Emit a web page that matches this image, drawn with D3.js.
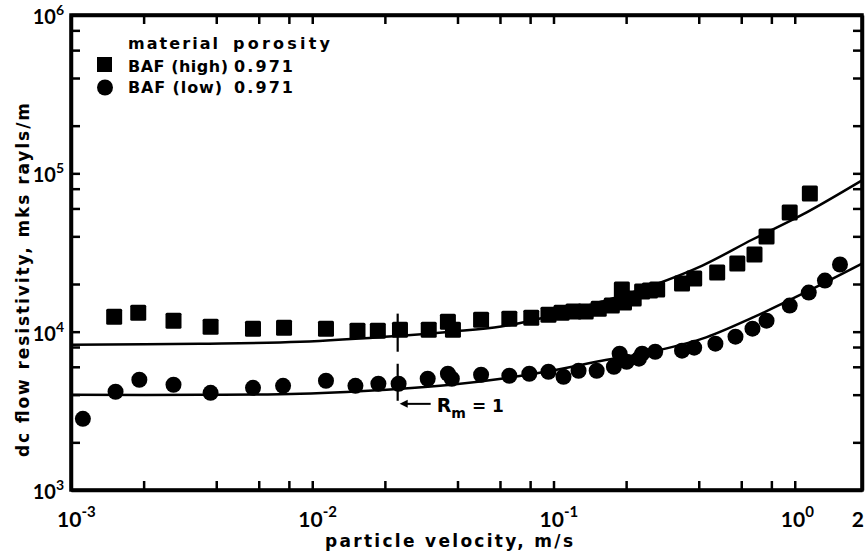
<!DOCTYPE html>
<html>
<head>
<meta charset="utf-8">
<script src="https://cdnjs.cloudflare.com/ajax/libs/d3/7.8.5/d3.min.js"></script>
<style>
  html, body { margin: 0; padding: 0; background: #fff; }
  svg { display: block; }
  text { font-family: 'Lato', 'DejaVu Sans', sans-serif; font-weight: 700; fill: #000; }
  text.wide { font-family: 'DejaVu Sans', sans-serif; font-weight: 700; }
</style>
</head>
<body>
<svg id="chart" width="865" height="555"></svg>
<script>
// ---------------- data ----------------
// BAF (high) — squares
const velHigh = [0.00151, 0.0019, 0.00266, 0.00379, 0.00568, 0.00764, 0.0114, 0.0154, 0.0187, 0.0231,
  0.0304, 0.0365, 0.0383, 0.0501, 0.0656, 0.0809, 0.0953, 0.108, 0.121, 0.136,
  0.154, 0.1745, 0.192, 0.196, 0.215, 0.233, 0.251, 0.269, 0.341, 0.383,
  0.477, 0.578, 0.681, 0.764, 0.953, 1.155];
const resHigh = [12440, 13190, 11740, 10760, 10440, 10600, 10440, 10150, 10150, 10300,
  10300, 11570, 10300, 11910, 12080, 12260, 12810, 13190, 13390, 13390,
  13980, 14610, 18450, 15260, 16180, 17920, 18180, 18450, 20130, 21650,
  23630, 26940, 30720, 39910, 56650, 74710];

// BAF (low) — circles
const velLow = [0.00112, 0.00153, 0.00192, 0.00266, 0.00379, 0.00568, 0.00757, 0.0114, 0.0151, 0.0188,
  0.0228, 0.0301, 0.0365, 0.0379, 0.0501, 0.0656, 0.0794, 0.0953, 0.110, 0.127,
  0.151, 0.178, 0.188, 0.201, 0.226, 0.233, 0.264, 0.341, 0.383, 0.469,
  0.568, 0.668, 0.764, 0.953, 1.143, 1.334, 1.54];
const resLow = [2814, 4172, 4968, 4619, 4111, 4420, 4550, 4896, 4550, 4688,
  4688, 5041, 5421, 5041, 5342, 5265, 5421, 5581, 5189, 5663,
  5663, 6005, 7258, 6457, 6748, 7258, 7470, 7582, 7923, 8396,
  9297, 10440, 11740, 14610, 17650, 21020, 26550];

// fitted curves
const fitVel  = [0.001, 0.00341, 0.00891, 0.0233, 0.0376, 0.0607, 0.0981, 0.1585, 0.256, 0.414, 0.668, 1.08, 1.9];
const fitHigh = [8270, 8400, 8640, 9430, 10000, 10770, 12620, 15500, 19550, 26170, 38200, 55000, 90300];
const fitLow  = [3990, 3990, 4050, 4360, 4620, 5040, 5660, 6550, 7470, 9030, 12260, 17400, 26940];

// axes
const xDomain = [0.001, 1.9];
const yDomain = [1000, 1000000];
const xMajor = [0.001, 0.01, 0.1, 1];
const xMajorExp = ["-3", "-2", "-1", "0"];
const xEndLabel = "2";
const yMajor = [1e3, 1e4, 1e5, 1e6];
const yMajorExp = ["3", "4", "5", "6"];
const minorMult = [2, 4, 6, 8];

// legend
const legendHeader = ["material", "porosity"];
const legendNames = ["BAF (high)", "BAF (low)"];
const legendPorosity = ["0.971", "0.971"];

// R_m = 1 annotation
const rmVel = 0.0226;
const rmSegments = [[13000, 7470], [6270, 3660]];
const rmArrowRes = 3500;

const xTitle = "particle velocity, m/s";
const yTitle = "dc flow resistivity,  mks rayls/m";

// ---------------- drawing ----------------
const svg = d3.select("#chart");
const L = 71, R = 862, T = 15, B = 490;
const x = d3.scaleLog().domain(xDomain).range([L, R]);
const y = d3.scaleLog().domain(yDomain).range([B, T]);

const xAll = [];
for (let d = -3; d <= 0; d++) {
  const base = Math.pow(10, d);
  xAll.push(base);
  minorMult.forEach(m => { if (base * m <= xDomain[1]) xAll.push(base * m); });
}
const yAll = [];
for (let d = 3; d <= 6; d++) {
  const base = Math.pow(10, d);
  yAll.push(base);
  if (d < 6) minorMult.forEach(m => yAll.push(base * m));
}

const TK = 9;
function styleAxis(g) {
  g.select(".domain").attr("stroke", "#000").attr("stroke-width", 3.5);
  g.selectAll(".tick line").attr("stroke", "#000").attr("stroke-width", 2.5);
  g.selectAll(".tick text").remove();
}
svg.append("g").attr("transform", `translate(0,${B})`)
  .call(d3.axisBottom(x).tickValues(xAll).tickSizeInner(-TK).tickSizeOuter(0).tickFormat(""))
  .call(styleAxis);
svg.append("g").attr("transform", `translate(0,${T})`)
  .call(d3.axisTop(x).tickValues(xAll).tickSizeInner(-TK).tickSizeOuter(0).tickFormat(""))
  .call(styleAxis);
svg.append("g").attr("transform", `translate(${L},0)`)
  .call(d3.axisLeft(y).tickValues(yAll).tickSizeInner(-TK).tickSizeOuter(0).tickFormat(""))
  .call(styleAxis);
svg.append("g").attr("transform", `translate(${R},0)`)
  .call(d3.axisRight(y).tickValues(yAll).tickSizeInner(-TK).tickSizeOuter(0).tickFormat(""))
  .call(styleAxis);
svg.append("rect").attr("x", L).attr("y", T).attr("width", R - L).attr("height", B - T)
  .attr("fill", "none").attr("stroke", "#000").attr("stroke-width", 3.5);

// x tick labels
xMajor.forEach((v, i) => {
  const t = svg.append("text").attr("x", x(v) - 14).attr("y", 527).attr("font-size", 21);
  t.append("tspan").text("10");
  t.append("tspan").attr("dy", -10).attr("font-size", 15).text(xMajorExp[i]);
});
svg.append("text").attr("x", 864).attr("y", 527).attr("text-anchor", "end").attr("font-size", 21).text(xEndLabel);

// y tick labels
yMajor.forEach((v, i) => {
  const t = svg.append("text").attr("x", 64).attr("y", Math.max(y(v) + 9, 21))
    .attr("text-anchor", "end").attr("font-size", 20);
  t.append("tspan").text("10");
  t.append("tspan").attr("dy", -9).attr("font-size", 14).text(yMajorExp[i]);
});

// titles
svg.append("text").attr("class", "wide").attr("x", 325).attr("y", 547).attr("font-size", 17)
  .attr("textLength", 248).attr("lengthAdjust", "spacing").text(xTitle);
svg.append("text").attr("class", "wide").attr("transform", "translate(29,457) rotate(-90)")
  .attr("font-size", 17).attr("textLength", 354).attr("lengthAdjust", "spacing").text(yTitle);

// fitted lines
const line = (vals) => d3.line().x((d, i) => x(fitVel[i])).y((d) => y(d)).curve(d3.curveCatmullRom.alpha(0.5))(vals);
svg.append("path").attr("d", line(fitHigh)).attr("fill", "none").attr("stroke", "#000").attr("stroke-width", 2.5);
svg.append("path").attr("d", line(fitLow)).attr("fill", "none").attr("stroke", "#000").attr("stroke-width", 2.5);

// markers
const SQ = 16;
svg.append("g").selectAll("rect").data(velHigh).join("rect")
  .attr("x", (d) => x(d) - SQ / 2).attr("y", (d, i) => y(resHigh[i]) - SQ / 2)
  .attr("width", SQ).attr("height", SQ).attr("rx", 1.5).attr("fill", "#000");
svg.append("g").selectAll("circle").data(velLow).join("circle")
  .attr("cx", (d) => x(d)).attr("cy", (d, i) => y(resLow[i])).attr("r", 8).attr("fill", "#000");

// R_m = 1 annotation
const rx = x(rmVel);
rmSegments.forEach(s => {
  svg.append("line").attr("x1", rx).attr("x2", rx).attr("y1", y(s[0])).attr("y2", y(s[1]))
    .attr("stroke", "#000").attr("stroke-width", 2.2);
});
const ay = y(rmArrowRes);
svg.append("line").attr("x1", rx + 5).attr("x2", rx + 33).attr("y1", ay).attr("y2", ay)
  .attr("stroke", "#000").attr("stroke-width", 2);
svg.append("path").attr("d", `M${rx + 2},${ay} L${rx + 10},${ay - 4} L${rx + 10},${ay + 4} Z`).attr("fill", "#000");
const rt = svg.append("text").attr("class", "wide").attr("x", rx + 39).attr("y", ay + 8).attr("font-size", 19);
rt.append("tspan").text("R");
rt.append("tspan").attr("dy", 6).attr("font-size", 14).text("m");
rt.append("tspan").attr("dy", -6).attr("dx", 6).attr("font-size", 17).text("= 1");

// legend
svg.append("text").attr("class", "wide").attr("x", 128).attr("y", 49).attr("font-size", 16).attr("textLength", 90).attr("lengthAdjust", "spacing").text(legendHeader[0]);
svg.append("text").attr("class", "wide").attr("x", 233).attr("y", 49).attr("font-size", 16).attr("textLength", 97).attr("lengthAdjust", "spacing").text(legendHeader[1]);
const rowY = [72, 93];
const nameW = [100, 94];
legendNames.forEach((n, i) => {
  svg.append("text").attr("class", "wide").attr("x", 128).attr("y", rowY[i]).attr("font-size", 16)
    .attr("textLength", nameW[i]).attr("lengthAdjust", "spacing").text(n);
  svg.append("text").attr("class", "wide").attr("x", 234).attr("y", rowY[i]).attr("font-size", 16)
    .attr("textLength", 59).attr("lengthAdjust", "spacing").text(legendPorosity[i]);
});
svg.append("rect").attr("x", 97).attr("y", 57).attr("width", 15).attr("height", 15).attr("fill", "#000");
svg.append("circle").attr("cx", 105).attr("cy", 87.5).attr("r", 8).attr("fill", "#000");
</script>
</body>
</html>
